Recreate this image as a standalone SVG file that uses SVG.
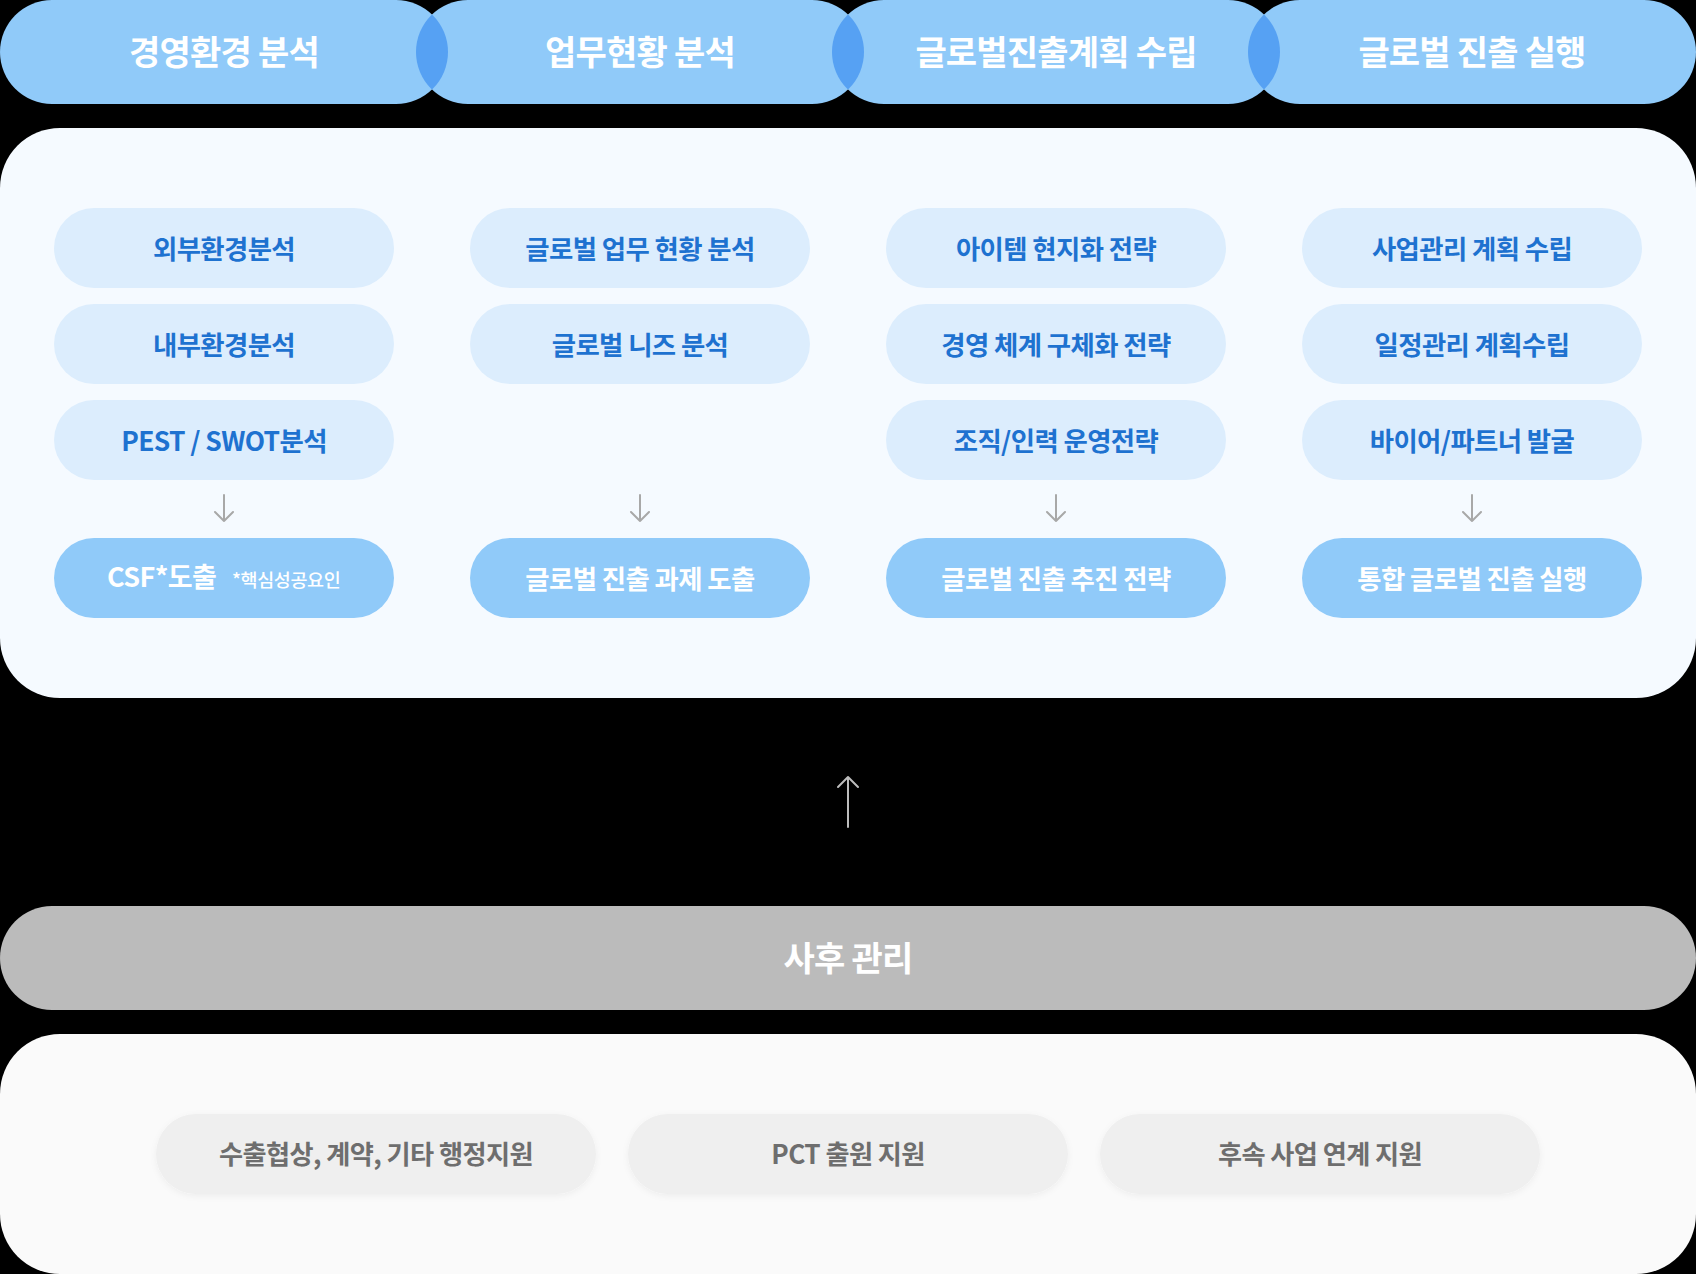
<svg xmlns="http://www.w3.org/2000/svg" width="1696" height="1274" viewBox="0 0 1696 1274">
<style>
  text { font-family: "Noto Sans CJK KR", "Noto Sans", sans-serif; font-weight: 700; }
  .phase { fill: #90CAF9; }
  .lens { fill: #56A1F3; }
  .phaseText { fill: #FFFFFF; font-size: 34px; letter-spacing: -0.8px; text-anchor: middle; dominant-baseline: central; }
  .sub { fill: #DCEDFD; }
  .subText { fill: #1E72D0; font-size: 26.4px; letter-spacing: -0.6px; text-anchor: middle; dominant-baseline: central; }
  .res { fill: #90CAF9; }
  .resText { fill: #FFFFFF; font-size: 26.4px; letter-spacing: -0.6px; text-anchor: middle; dominant-baseline: central; }
  .grayPill { fill: #EFEFEF; }
  .grayText { fill: #6E6E6E; font-size: 26.2px; letter-spacing: -0.6px; text-anchor: middle; dominant-baseline: central; }
  .down { stroke: #A8A8A8; stroke-width: 2; fill: none; stroke-linecap: round; stroke-linejoin: round; }
  .up { stroke: #BDBDBD; stroke-width: 2; fill: none; stroke-linecap: round; stroke-linejoin: round; }
</style>
<defs>
  <clipPath id="c1"><rect x="0" y="0" width="448" height="104" rx="52"/></clipPath>
  <clipPath id="c2"><rect x="416" y="0" width="448" height="104" rx="52"/></clipPath>
  <clipPath id="c3"><rect x="832" y="0" width="448" height="104" rx="52"/></clipPath>
  <filter id="sh" x="-10%" y="-30%" width="120%" height="160%">
    <feDropShadow dx="0" dy="2" stdDeviation="3" flood-color="#000000" flood-opacity="0.05"/>
  </filter>
</defs>
<rect x="0" y="0" width="1696" height="1274" fill="#000000"/>

<g id="phases">
  <g id="phase1"><rect class="phase" x="0" y="0" width="448" height="104" rx="52"/><text class="phaseText" x="224" y="50">경영환경 분석</text></g>
  <g id="phase2"><rect class="phase" x="416" y="0" width="448" height="104" rx="52"/><text class="phaseText" x="640" y="50">업무현황 분석</text></g>
  <g id="phase3"><rect class="phase" x="832" y="0" width="448" height="104" rx="52"/><text class="phaseText" x="1056" y="50">글로벌진출계획 수립</text></g>
  <g id="phase4"><rect class="phase" x="1248" y="0" width="448" height="104" rx="52"/><text class="phaseText" x="1472" y="50">글로벌 진출 실행</text></g>
  <rect class="lens" x="416" y="0" width="448" height="104" rx="52" clip-path="url(#c1)"/>
  <rect class="lens" x="832" y="0" width="448" height="104" rx="52" clip-path="url(#c2)"/>
  <rect class="lens" x="1248" y="0" width="448" height="104" rx="52" clip-path="url(#c3)"/>
</g>

<g id="main-panel">
  <rect x="0" y="128" width="1696" height="570" rx="60" fill="#F5FAFF"/>
</g>

<g id="col1">
  <g id="n-external"><rect class="sub" x="54" y="208" width="340" height="80" rx="40"/><text class="subText" x="224" y="247">외부환경분석</text></g>
  <g id="n-internal"><rect class="sub" x="54" y="304" width="340" height="80" rx="40"/><text class="subText" x="224" y="343">내부환경분석</text></g>
  <g id="n-pest"><rect class="sub" x="54" y="400" width="340" height="80" rx="40"/><text class="subText" x="224" y="439">PEST / SWOT분석</text></g>
  <g id="n-csf"><rect class="res" x="54" y="538" width="340" height="80" rx="40"/>
    <text x="107" y="587" fill="#FFFFFF" font-size="27" letter-spacing="-0.6"><tspan>CSF*도출</tspan><tspan x="232" font-size="18.5" font-weight="500" letter-spacing="-0.4">*핵심성공요인</tspan></text></g>
</g>

<g id="col2">
  <g id="n-global-status"><rect class="sub" x="470" y="208" width="340" height="80" rx="40"/><text class="subText" x="640" y="247">글로벌 업무 현황 분석</text></g>
  <g id="n-global-needs"><rect class="sub" x="470" y="304" width="340" height="80" rx="40"/><text class="subText" x="640" y="343">글로벌 니즈 분석</text></g>
  <g id="n-task"><rect class="res" x="470" y="538" width="340" height="80" rx="40"/><text class="resText" x="640" y="577">글로벌 진출 과제 도출</text></g>
</g>

<g id="col3">
  <g id="n-item"><rect class="sub" x="886" y="208" width="340" height="80" rx="40"/><text class="subText" x="1056" y="247">아이템 현지화 전략</text></g>
  <g id="n-mgmt"><rect class="sub" x="886" y="304" width="340" height="80" rx="40"/><text class="subText" x="1056" y="343">경영 체계 구체화 전략</text></g>
  <g id="n-org"><rect class="sub" x="886" y="400" width="340" height="80" rx="40"/><text class="subText" x="1056" y="439">조직/인력 운영전략</text></g>
  <g id="n-strategy"><rect class="res" x="886" y="538" width="340" height="80" rx="40"/><text class="resText" x="1056" y="577">글로벌 진출 추진 전략</text></g>
</g>

<g id="col4">
  <g id="n-biz"><rect class="sub" x="1302" y="208" width="340" height="80" rx="40"/><text class="subText" x="1472" y="247">사업관리 계획 수립</text></g>
  <g id="n-schedule"><rect class="sub" x="1302" y="304" width="340" height="80" rx="40"/><text class="subText" x="1472" y="343">일정관리 계획수립</text></g>
  <g id="n-buyer"><rect class="sub" x="1302" y="400" width="340" height="80" rx="40"/><text class="subText" x="1472" y="439">바이어/파트너 발굴</text></g>
  <g id="n-exec"><rect class="res" x="1302" y="538" width="340" height="80" rx="40"/><text class="resText" x="1472" y="577">통합 글로벌 진출 실행</text></g>
</g>

<g id="aftercare">
  <rect x="0" y="906" width="1696" height="104" rx="52" fill="#BBBBBB"/>
  <text class="phaseText" x="848" y="956">사후 관리</text>
</g>

<g id="support-panel">
  <rect x="0" y="1034" width="1696" height="240" rx="60" fill="#FAFAFA"/>
  <g id="n-export"><rect class="grayPill" x="156" y="1114" width="440" height="80" rx="40" filter="url(#sh)"/><text class="grayText" x="376" y="1153">수출협상, 계약, 기타 행정지원</text></g>
  <g id="n-pct"><rect class="grayPill" x="628" y="1114" width="440" height="80" rx="40" filter="url(#sh)"/><text class="grayText" x="848" y="1153">PCT 출원 지원</text></g>
  <g id="n-followup"><rect class="grayPill" x="1100" y="1114" width="440" height="80" rx="40" filter="url(#sh)"/><text class="grayText" x="1320" y="1153">후속 사업 연계 지원</text></g>
</g>

<g id="connectors">
  <path class="down" d="M224 495 V521 M215 512 L224 521 L233 512"/>
  <path class="down" d="M640 495 V521 M631 512 L640 521 L649 512"/>
  <path class="down" d="M1056 495 V521 M1047 512 L1056 521 L1065 512"/>
  <path class="down" d="M1472 495 V521 M1463 512 L1472 521 L1481 512"/>
  <path class="up" d="M848 827 V777 M838 787 L848 777 L858 787"/>
</g>
</svg>
